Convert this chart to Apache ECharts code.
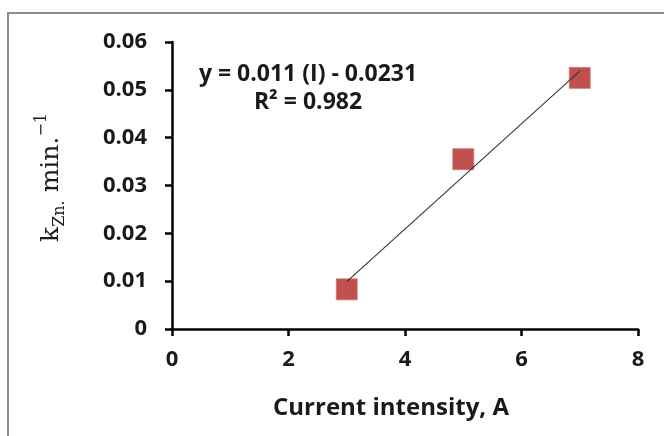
<!DOCTYPE html>
<html>
<head>
<meta charset="utf-8">
<script src="https://cdn.jsdelivr.net/npm/echarts@6/dist/echarts.min.js"></script>
<style>
  html, body { margin: 0; padding: 0; background: #fff; }
  #chart { width: 664px; height: 436px; }
</style>
</head>
<body>
<div id="chart"></div>
<script>
// measured points
var currents = [3, 5, 7];
var rateConst = [0.0083, 0.0355, 0.0525];
// linear fit shown on chart
var slope = 0.011;
var intercept = -0.0231;
var fitRange = [3, 7];
var equationLines = ['y = 0.011 (I) - 0.0231', 'R\u00b2 = 0.982'];

var chart = echarts.init(document.getElementById('chart'));
var FONT = '"Open Sans", "DejaVu Sans", sans-serif';
var SERIF = '"DejaVu Serif", "Liberation Serif", serif';
var TXT = '#1a1a1a';

var fitData = fitRange.map(function(x){
  return [x, slope * x + intercept];
});

var option = {
  animation: false,
  grid: { left: 172, right: 26, top: 42, bottom: 107 },
  graphic: [
    {
      type: 'rect',
      shape: { x: 8, y: 13, width: 700, height: 460 },
      style: { fill: 'none', stroke: '#8c8c8c', lineWidth: 2 },
      silent: true
    },
    {
      type: 'text',
      x: 308,
      y: 60,
      style: {
        text: equationLines.join('\n'),
        font: 'bold 23px ' + FONT,
        fill: TXT,
        align: 'center',
        lineHeight: 28
      }
    }
  ],
  xAxis: {
    type: 'value',
    min: 0, max: 8, interval: 2,
    name: 'Current intensity, A',
    nameLocation: 'middle',
    nameGap: 67,
    nameTextStyle: { fontFamily: FONT, fontWeight: 'bold', fontSize: 24, color: TXT, padding: [0, 28, 0, 0] },
    axisLine: { onZero: false, lineStyle: { color: '#000', width: 2.5 } },
    axisTick: { show: true, length: 7, inside: false, lineStyle: { color: '#000', width: 2.5 } },
    axisLabel: { margin: 20, fontFamily: FONT, fontWeight: 'bold', fontSize: 22, color: TXT },
    splitLine: { show: false }
  },
  yAxis: {
    type: 'value',
    min: 0, max: 0.06, interval: 0.01,
    name: '{k|k}{sub|Zn.}{k| min.}{sup|\u22121}',
    nameLocation: 'middle',
    nameRotate: 90,
    nameGap: 104,
    nameTextStyle: {
      padding: [0, 0, 0, 16],
      rich: {
        k: { fontFamily: SERIF, fontSize: 25, color: TXT, lineHeight: 34, verticalAlign: 'middle' },
        sub: { fontFamily: SERIF, fontSize: 16, color: TXT, lineHeight: 16, verticalAlign: 'bottom' },
        sup: { fontFamily: SERIF, fontSize: 16, color: TXT, lineHeight: 16, verticalAlign: 'top' }
      }
    },
    axisLine: { show: true, lineStyle: { color: '#000', width: 2.5 } },
    axisTick: { show: true, length: 7, inside: false, lineStyle: { color: '#000', width: 2.5 } },
    axisLabel: {
      margin: 25, fontFamily: FONT, fontWeight: 'bold', fontSize: 22, color: TXT,
      formatter: function(v){ return v === 0 ? '0' : v.toFixed(2); }
    },
    splitLine: { show: false }
  },
  series: [
    {
      name: 'fit',
      type: 'line',
      data: fitData,
      symbol: 'none',
      lineStyle: { color: '#333', width: 1.1 },
      z: 3
    },
    {
      name: 'k',
      type: 'scatter',
      data: currents.map(function(c, i){ return [c, rateConst[i]]; }),
      symbol: 'rect',
      symbolSize: 21,
      itemStyle: { color: '#C0504D', opacity: 1, borderColor: '#cf7a77', borderWidth: 0.8 },
      z: 2
    }
  ]
};

chart.setOption(option);
</script>
</body>
</html>
